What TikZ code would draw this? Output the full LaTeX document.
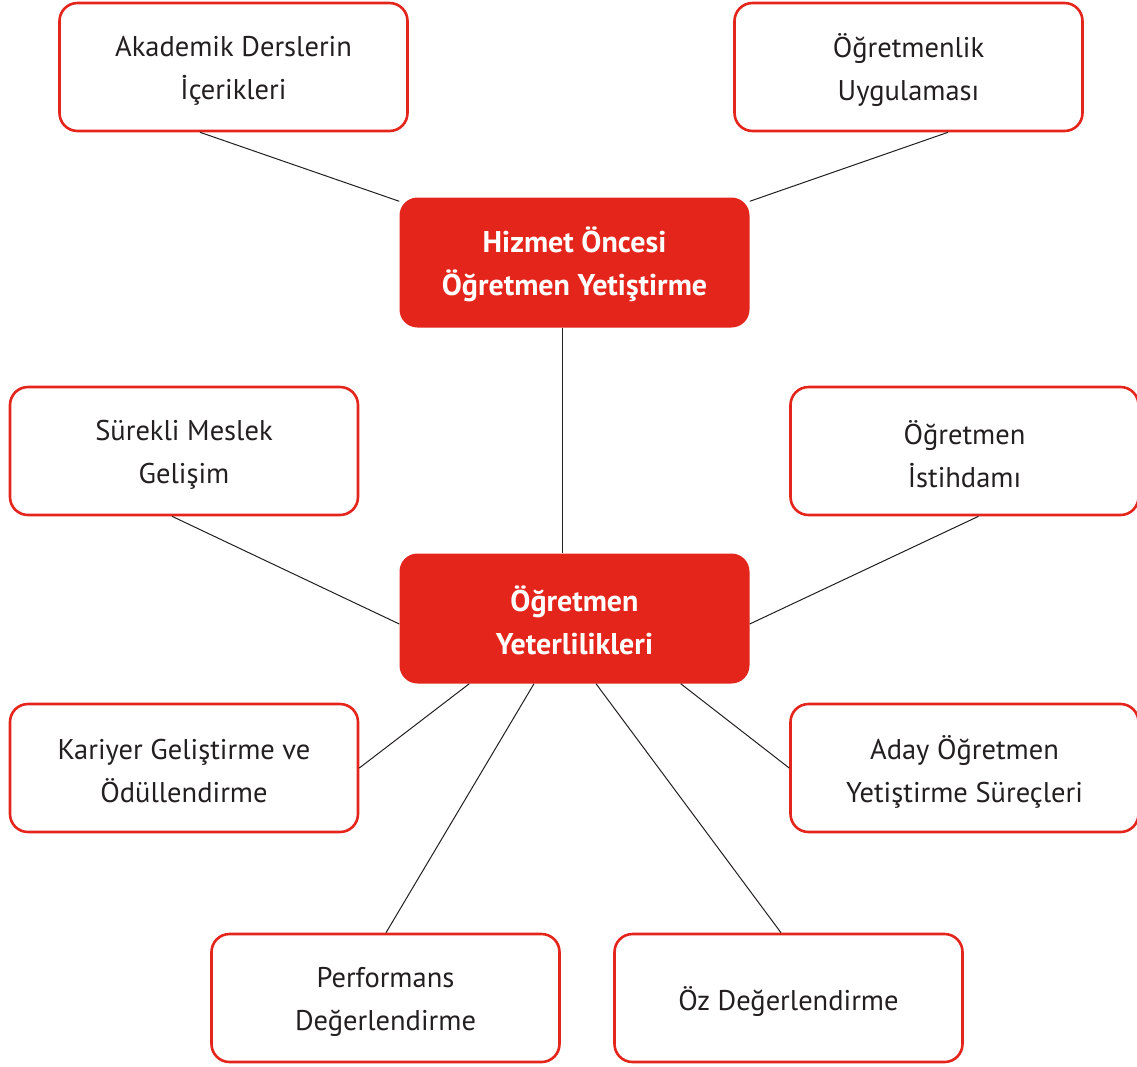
\documentclass[tikz,border=0pt]{standalone}
\usepackage{fontspec}
\setmainfont{PT Sans}
\usetikzlibrary{calc}
\definecolor{kred}{HTML}{E4251B}
\definecolor{ktext}{HTML}{231F20}
\begin{document}
\begin{tikzpicture}[x=1pt,y=1pt,
  wbox/.style={draw=kred,line width=2.6pt,fill=white,rounded corners=18pt,
    minimum width=348pt,minimum height=128pt,inner sep=0pt},
  rbox/.style={fill=kred,rounded corners=18pt,
    minimum width=350pt,minimum height=130pt,inner sep=0pt},
  wtext/.style={align=center,text=ktext,inner sep=0pt,
    font=\fontsize{28.5}{43}\selectfont},
  rtext/.style={align=center,text=white,inner sep=0pt,
    font=\fontsize{30}{43}\selectfont\bfseries},
  link/.style={draw=ktext,line width=1pt}]
\useasboundingbox (0,0) rectangle (1137,-1066);
\node[wbox] (ak) at (233.5,-67) {};
\node[wbox] (ou) at (908.5,-67) {};
\node[rbox] (hz) at (574.5,-262.5) {};
\node[wbox] (sm) at (184,-451) {};
\node[wbox] (oi) at (964.5,-451) {};
\node[rbox] (yt) at (574.5,-618.5) {};
\node[wbox] (ka) at (184,-768) {};
\node[wbox] (ad) at (964.5,-768) {};
\node[wbox] (pf) at (385.5,-998) {};
\node[wbox] (oz) at (788.5,-998) {};
\node[wtext] (akt) at ([yshift=-3.5pt]ak.center) {Akademik Derslerin\\İçerikleri};
\node[wtext] (out) at ([yshift=-3.5pt]ou.center) {Öğretmenlik\\Uygulaması};
\node[rtext] (hzt) at ([yshift=-2pt]hz.center) {Hizmet Öncesi\\Öğretmen Yetiştirme};
\node[wtext] (smt) at ([yshift=-3.5pt]sm.center) {Sürekli Meslek\\Gelişim};
\node[wtext] (oit) at ([yshift=-3.5pt]oi.center) {Öğretmen\\İstihdamı};
\node[rtext] (ytt) at ([yshift=-2pt]yt.center) {Öğretmen\\Yeterlilikleri};
\node[wtext] (kat) at ([yshift=-3.5pt]ka.center) {Kariyer Geliştirme ve\\Ödüllendirme};
\node[wtext] (adt) at ([yshift=-3.5pt]ad.center) {Aday Öğretmen\\Yetiştirme Süreçleri};
\node[wtext] (pft) at ([yshift=-3.5pt]pf.center) {Performans\\Değerlendirme};
\node[wtext] (ozt) at ([yshift=-3.5pt]oz.center) {Öz Değerlendirme};
\draw[link] ([xshift=-33.5pt]ak.south) -- ([yshift=-4pt]hz.north west);
\draw[link] ([xshift=39.5pt]ou.south) -- ([yshift=-4pt]hz.north east);
\draw[link] ([xshift=-12pt]hz.south) -- ([xshift=-12pt]yt.north);
\draw[link] ([xshift=-12pt]sm.south) -- ([yshift=-5.5pt]yt.west);
\draw[link] ([xshift=14pt]oi.south) -- ([yshift=-5.5pt]yt.east);
\draw[link] (ka.east) -- ([xshift=70pt]yt.south west);
\draw[link] (ad.west) -- ([xshift=-69pt]yt.south east);
\draw[link] ([xshift=0.5pt]pf.north) -- ([xshift=-40.5pt]yt.south);
\draw[link] ([xshift=-7.5pt]oz.north) -- ([xshift=21.5pt]yt.south);
\end{tikzpicture}
\end{document}
